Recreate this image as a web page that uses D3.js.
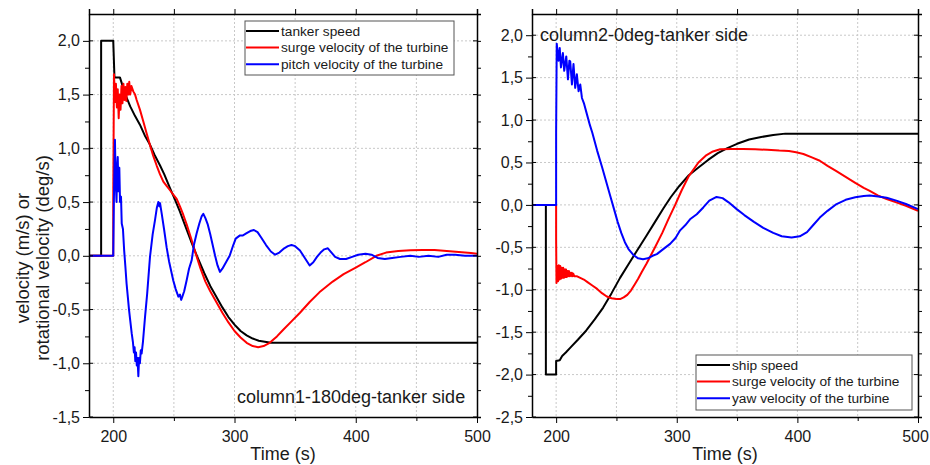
<!DOCTYPE html>
<html lang="en">
<head>
<meta charset="utf-8">
<title>tanker side velocities</title>
<script src="https://d3js.org/d3.v7.min.js"></script>
<style>
  body { margin: 0; background: #fff; }
  svg { font-family: "Liberation Sans", Arial, sans-serif; }
  .grid line { stroke: #c8c8c8; stroke-dasharray: 2,2; stroke-width: 1; }
  .tick-label { font-size: 16px; fill: #1a1a1a; }
  .series { fill: none; stroke-width: 2; stroke-linejoin: round; }
</style>
</head>
<body>
<div id="chart"></div>
<script>
// ---- data: [time (s), value] ----
var tankerSpeed = [[180,0],[190,0],[190,2.0],[200,2.0],[201,1.66],[205.5,1.66],[210,1.5],[214,1.39],[218,1.3],
  [222,1.22],[226,1.12],[230,1.04],[234,0.94],[238.6,0.84],[242,0.76],[246.8,0.63],[251,0.52],[255,0.41],
  [259,0.29],[264,0.14],[269,0.0],[275,-0.16],[280,-0.28],[285,-0.38],[290,-0.48],[295,-0.57],[300,-0.64],
  [305,-0.7],[310,-0.74],[315,-0.77],[320,-0.79],[325,-0.8],[330,-0.81],[500,-0.81]];

var surgeLeft = [[180,0],[200,0],[200,0.53],[200.6,1.69],[201.5,1.43],[202.2,1.6],[203,1.38],[203.7,1.55],
  [204.5,1.28],[205.2,1.5],[206,1.36],[206.8,1.58],[207.6,1.42],[208.4,1.6],[209.2,1.45],[210,1.57],
  [210.8,1.44],[211.6,1.6],[212.4,1.5],[213.2,1.62],[214,1.5],[215,1.58],[216.5,1.53],[218,1.5],[219.3,1.45],
  [222,1.36],[224.8,1.25],[227.5,1.14],[230.3,1.03],[233,0.93],[235.8,0.84],[238.5,0.76],[241.3,0.69],
  [244,0.65],[246.8,0.61],[249.5,0.57],[252.3,0.53],[255,0.46],[257.8,0.38],[260.6,0.29],[264,0.17],
  [268,0.02],[272,-0.12],[276,-0.24],[280,-0.33],[285,-0.43],[290,-0.53],[295,-0.62],[300,-0.7],[305,-0.76],
  [310,-0.81],[315,-0.84],[319.5,-0.85],[324,-0.84],[329,-0.81],[335,-0.75],[340,-0.69],[347,-0.61],
  [354,-0.53],[362,-0.43],[370,-0.34],[381,-0.24],[390,-0.17],[400,-0.11],[408,-0.06],[417,0.0],[425,0.03],
  [435,0.045],[445,0.052],[455,0.055],[465,0.053],[475,0.045],[485,0.035],[495,0.025],[500,0.02]];

var pitchLeft = [[180,0],[200,0],[200.5,0.5],[201.4,1.08],[202,0.7],[202.7,0.5],[203.3,0.85],[203.7,0.92],
  [204.3,0.6],[205,0.82],[205.6,0.5],[206.4,0.55],[207,0.3],[208,0.25],[209,0.05],[210,-0.1],[211,-0.26],
  [212,-0.38],[213,-0.5],[214,-0.6],[215.2,-0.72],[216.2,-0.8],[217,-0.9],[217.6,-0.85],[218.2,-0.98],
  [218.8,-0.9],[219.4,-1.02],[220,-0.95],[220.7,-1.12],[221.3,-0.95],[222,-1.0],[222.7,-0.88],[223.4,-0.91],
  [224.5,-0.8],[226.2,-0.57],[228,-0.35],[230.3,-0.01],[232.5,0.2],[234.4,0.33],[236,0.45],[237.2,0.5],
  [238,0.46],[238.6,0.49],[240,0.39],[242,0.24],[244,0.08],[246,-0.05],[249.5,-0.23],[251.5,-0.31],
  [253.7,-0.38],[255,-0.36],[256,-0.41],[257,-0.38],[258.5,-0.33],[260.5,-0.23],[262.5,-0.12],[264.7,-0.04],
  [266.5,0.1],[268.8,0.21],[271,0.3],[273,0.37],[274.3,0.39],[276,0.35],[278,0.29],[280,0.2],[282,0.1],
  [284,0.0],[286,-0.09],[288,-0.15],[290,-0.12],[293,-0.06],[296,0.0],[299,0.1],[301,0.16],[304.5,0.19],
  [307,0.19],[310,0.21],[313,0.23],[316,0.24],[319,0.22],[322,0.17],[326,0.1],[330,0.04],[333.5,0.01],
  [337,0.03],[341,0.07],[344,0.09],[347,0.1],[350,0.09],[354,0.05],[358,-0.02],[362,-0.09],[365,-0.06],
  [368,-0.01],[371,0.03],[374,0.06],[377,0.07],[380,0.03],[383,-0.01],[387,-0.03],[392,-0.03],[397,-0.01],
  [402,0.01],[408,0.02],[413,0.01],[418,-0.02],[424,-0.03],[430,-0.02],[437,-0.01],[445,0.0],[452,-0.01],
  [460,0.0],[468,-0.01],[475,0.01],[482,0.01],[490,0.0],[500,0.0]];

var shipSpeed = [[180,0],[191.5,0],[191.5,-2.0],[200,-2.0],[200,-1.84],[203,-1.83],[205,-1.78],[208,-1.74],
  [212,-1.68],[218,-1.59],[225,-1.48],[232,-1.35],[239,-1.21],[246,-1.04],[253,-0.86],[260,-0.7],[267,-0.54],
  [275,-0.36],[282,-0.2],[289,-0.04],[295,0.09],[302,0.22],[310,0.35],[318,0.44],[326,0.53],[334,0.61],
  [342,0.67],[350,0.72],[360,0.77],[370,0.8],[380,0.825],[390,0.84],[500,0.84]];

var surgeRight = [[180,0],[200,0],[200,-0.4],[200.3,-0.92],[201,-0.72],[201.6,-0.9],[202.2,-0.71],[202.8,-0.88],
  [203.4,-0.72],[204,-0.87],[204.6,-0.74],[205.2,-0.86],[205.8,-0.74],[206.4,-0.86],[207,-0.76],[207.6,-0.85],
  [208.2,-0.76],[208.8,-0.85],[209.4,-0.78],[210,-0.84],[210.6,-0.78],[211.2,-0.84],[211.8,-0.8],[212.4,-0.84],
  [213,-0.8],[213.6,-0.84],[214.2,-0.81],[215,-0.84],[217,-0.84],[220,-0.86],[223,-0.88],[226,-0.91],
  [230,-0.95],[234,-0.99],[238,-1.04],[242,-1.08],[246,-1.1],[250,-1.11],[253,-1.11],[256,-1.09],[259,-1.06],
  [262,-1.01],[265,-0.94],[268,-0.87],[271,-0.79],[275,-0.69],[282,-0.5],[288,-0.33],[293,-0.17],[298.7,0.0],
  [304,0.17],[310,0.34],[318,0.5],[324,0.58],[330,0.63],[336,0.655],[345,0.66],[355,0.66],[365,0.655],
  [375,0.65],[385,0.64],[393,0.635],[399,0.62],[405,0.6],[412,0.56],[418.6,0.52],[425,0.46],[432,0.4],
  [440,0.33],[448,0.26],[455,0.2],[460,0.165],[467,0.11],[474,0.07],[482,0.03],[490,-0.01],[500,-0.07]];

var yawRight = [[180,0],[200,0],[200,0.85],[200.5,1.9],[202,1.7],[203,1.85],[204,1.62],[205.6,1.79],
  [206.7,1.58],[208.4,1.75],[209.8,1.48],[211,1.7],[211.7,1.69],[213.1,1.42],[214.4,1.66],[215.8,1.38],
  [217.2,1.54],[218.6,1.34],[220,1.42],[221.4,1.26],[223,1.2],[225.5,1.07],[228,0.94],[230,0.85],[234,0.64],
  [238,0.45],[242,0.25],[245,0.1],[248,-0.05],[251,-0.2],[254,-0.33],[257,-0.44],[260,-0.52],[264,-0.59],
  [268,-0.63],[272,-0.64],[276,-0.63],[280,-0.6],[283.5,-0.58],[288,-0.53],[294.5,-0.46],[299,-0.39],
  [302.8,-0.3],[307,-0.24],[311,-0.17],[316.6,-0.11],[322,-0.03],[327,0.05],[333,0.094],[338,0.08],[343,0.03],
  [349.7,-0.05],[356,-0.12],[364,-0.2],[371.7,-0.27],[380,-0.33],[387,-0.37],[395.2,-0.385],[402,-0.37],
  [408,-0.32],[413,-0.24],[418.6,-0.15],[425,-0.07],[432.5,0.01],[440,0.06],[448,0.09],[455,0.105],[460,0.11],
  [467,0.1],[474,0.085],[482,0.05],[490,0.01],[500,-0.05]];

var xTickLabels = [200, 300, 400, 500];
var xGridTicks = [200, 250, 300, 350, 400, 450];
var leftYTicks = [-1.5, -1.0, -0.5, 0.0, 0.5, 1.0, 1.5, 2.0];
var rightYTicks = [-2.5, -2.0, -1.5, -1.0, -0.5, 0.0, 0.5, 1.0, 1.5, 2.0];
var leftNames = ["tanker speed", "surge velocity of the turbine", "pitch velocity of the turbine"];
var rightNames = ["ship speed", "surge velocity of the turbine", "yaw velocity of the turbine"];
var colors = ["#000000", "#ff0000", "#0000ff"];

var svg = d3.select("#chart").append("svg")
  .attr("width", 930).attr("height", 465);

var fmt = function(d) { return d3.format(".1f")(d).replace(".", ",").replace("\u2212", "-"); };

function drawPanel(p) {
  var x = d3.scaleLinear().domain([180, 500]).range([p.left, p.right]);
  var y = d3.scaleLinear().domain(p.yDomain).range([p.bottom, p.top]);
  var g = svg.append("g");

  // dotted grid
  var grid = g.append("g").attr("class", "grid");
  grid.selectAll(".gx").data(xGridTicks).enter().append("line")
    .attr("x1", function(d) { return x(d); }).attr("x2", function(d) { return x(d); })
    .attr("y1", p.top).attr("y2", p.bottom);
  grid.selectAll(".gy").data(p.yTicks.filter(function(d) { return d > p.yDomain[0]; })).enter().append("line")
    .attr("y1", function(d) { return y(d); }).attr("y2", function(d) { return y(d); })
    .attr("x1", p.left).attr("x2", p.right);

  // series
  var line = d3.line().x(function(d) { return x(d[0]); }).y(function(d) { return y(d[1]); });
  p.series.forEach(function(s, i) {
    g.append("path").datum(s).attr("class", "series")
      .attr("stroke", colors[i]).attr("d", line);
  });

  // axes on all four sides
  var minorY = d3.range(p.yDomain[0] + 0.25, p.yDomain[1], 0.5);
  var majorX = xTickLabels.slice(), minorX = [250, 350, 450];
  function ticks(sel, axis) { sel.call(axis).call(function(a) { a.select(".domain").attr("stroke-width", 1.5); }); }

  var bottomAxis = g.append("g").attr("transform", "translate(0," + p.bottom + ")");
  ticks(bottomAxis,
    d3.axisBottom(x).tickValues(majorX).tickSizeInner(6).tickSizeOuter(0).tickPadding(8).tickFormat(d3.format("d")));
  // keep the last label inside the window
  bottomAxis.selectAll(".tick text").filter(function(d) { return d === 500; }).attr("dx", p.lastDx || 0);
  g.append("g").attr("transform", "translate(0," + p.bottom + ")")
    .call(d3.axisBottom(x).tickValues(minorX).tickSizeInner(4).tickSizeOuter(0).tickFormat(""))
    .select(".domain").remove();
  ticks(g.append("g").attr("transform", "translate(0," + p.top + ")"),
    d3.axisTop(x).tickValues(majorX.concat(minorX)).tickSize(5).tickFormat(""));
  ticks(g.append("g").attr("transform", "translate(" + p.left + ",0)"),
    d3.axisLeft(y).tickValues(p.yTicks).tickSizeInner(6).tickSizeOuter(0).tickPadding(3).tickFormat(fmt));
  g.append("g").attr("transform", "translate(" + p.left + ",0)")
    .call(d3.axisLeft(y).tickValues(minorY).tickSizeInner(4).tickSizeOuter(0).tickFormat(""))
    .select(".domain").remove();
  ticks(g.append("g").attr("transform", "translate(" + p.right + ",0)"),
    d3.axisRight(y).tickValues(p.yTicks.concat(minorY)).tickSize(4).tickFormat(""));

  // inward half of major ticks
  g.selectAll(".inner-y").data(p.yTicks).enter().append("line")
    .attr("x1", p.left).attr("x2", p.left + 4)
    .attr("y1", function(d) { return y(d); }).attr("y2", function(d) { return y(d); })
    .attr("stroke", "#000");
  g.selectAll(".inner-yr").data(p.yTicks).enter().append("line")
    .attr("x1", p.right - 4).attr("x2", p.right)
    .attr("y1", function(d) { return y(d); }).attr("y2", function(d) { return y(d); })
    .attr("stroke", "#000");

  g.selectAll(".tick text").attr("class", "tick-label").attr("font-family", null).attr("font-size", null);

  g.append("text").attr("x", (p.left + p.right) / 2).attr("y", 460)
    .attr("text-anchor", "middle").attr("font-size", 18).attr("fill", "#1a1a1a").text("Time (s)");

  // legend
  var lg = g.append("g");
  lg.append("rect").attr("x", p.legend.x).attr("y", p.legend.y)
    .attr("width", p.legend.w).attr("height", p.legend.h)
    .attr("fill", "#fff").attr("stroke", "#555").attr("stroke-width", 1);
  p.names.forEach(function(n, i) {
    var ly = p.legend.y + 10 + i * 16.6;
    lg.append("line").attr("x1", p.legend.x + 1).attr("x2", p.legend.x + 34)
      .attr("y1", ly).attr("y2", ly).attr("stroke", colors[i]).attr("stroke-width", 2);
    lg.append("text").attr("x", p.legend.x + 36).attr("y", ly + 4.5)
      .attr("font-size", 13.7).attr("fill", "#1a1a1a").text(n);
  });

  g.append("text").attr("x", p.note.x).attr("y", p.note.y)
    .attr("font-size", 18).attr("fill", "#1a1a1a").text(p.note.text);
}

drawPanel({
  left: 89, right: 477, top: 14, bottom: 417,
  yDomain: [-1.5, 2.25], yTicks: leftYTicks,
  series: [tankerSpeed, surgeLeft, pitchLeft], names: leftNames,
  legend: { x: 245, y: 21, w: 209, h: 54 },
  note: { x: 237, y: 403, text: "column1-180deg-tanker side" }
});

drawPanel({
  left: 532, right: 918, top: 14, bottom: 417,
  yDomain: [-2.5, 2.25], yTicks: rightYTicks,
  series: [shipSpeed, surgeRight, yawRight], names: rightNames,
  legend: { x: 696, y: 355, w: 216, h: 55 },
  note: { x: 540, y: 41, text: "column2-0deg-tanker side" },
  lastDx: -3
});

// y axis title (left panel only)
var yt = svg.append("g").attr("transform", "translate(0,258) rotate(-90)")
  .attr("text-anchor", "middle").attr("font-size", 18.5).attr("fill", "#1a1a1a");
yt.append("text").attr("x", 0).attr("y", 29).text("velocity (m/s) or");
yt.append("text").attr("x", 0).attr("y", 49).text("rotational velocity (deg/s)");
</script>
</body>
</html>
